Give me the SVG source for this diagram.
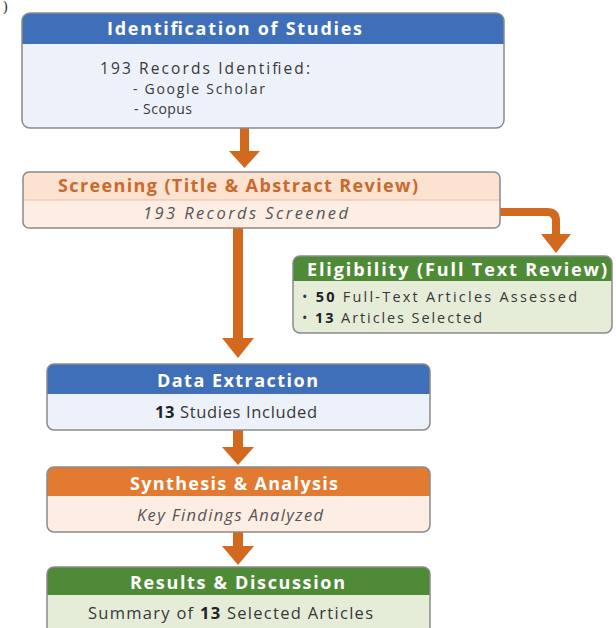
<svg xmlns="http://www.w3.org/2000/svg" width="616" height="628" viewBox="0 0 616 628">
<defs>
<style>
text{font-family:"Open Sans","Noto Sans","Liberation Sans",sans-serif}
.t{font-weight:bold;font-size:18px;fill:#ffffff}
.b{font-size:16.5px;fill:#383838}
.s{font-size:14px}
.e{font-size:14.5px}
.i{font-style:italic}
.n{font-weight:bold;fill:#222222}
.frame{stroke:#8a8a8a;stroke-width:1.5}
.arr{fill:#D2691E}
.line{fill:none;stroke:#D2691E;stroke-width:8}
</style>
<clipPath id="c1"><rect x="22" y="13" width="482" height="115" rx="8"/></clipPath>
<clipPath id="c2"><rect x="23" y="172" width="477" height="56" rx="6"/></clipPath>
<clipPath id="c3"><rect x="293" y="256" width="319" height="77" rx="7"/></clipPath>
<clipPath id="c4"><rect x="47" y="364" width="383" height="66" rx="7"/></clipPath>
<clipPath id="c5"><rect x="47" y="467" width="383" height="65" rx="7"/></clipPath>
<clipPath id="c6"><rect x="47" y="567" width="383" height="70" rx="7"/></clipPath>
</defs>
<rect width="616" height="628" fill="#ffffff"/>
<text x="3" y="11" style="font-family:'Liberation Serif',serif;font-size:14px;fill:#222">)</text>

<g id="connectors">
<rect class="arr" x="240" y="128" width="9" height="26"/>
<polygon class="arr" points="229,151 260,151 244.5,168"/>
<rect class="arr" x="233" y="228" width="10" height="112"/>
<polygon class="arr" points="222,338 254,338 238,358"/>
<path class="line" d="M500,212 H547 Q556,212 556,221 V236"/>
<polygon class="arr" points="541,234 571,234 556,253"/>
<rect class="arr" x="233" y="430" width="10" height="20"/>
<polygon class="arr" points="222,447 254,447 238,465"/>
<rect class="arr" x="233" y="532" width="10" height="17"/>
<polygon class="arr" points="222,546 254,546 238,565"/>
</g>

<g id="identification">
<g clip-path="url(#c1)">
<rect x="22" y="13" width="482" height="115" fill="#EDF1F9"/>
<rect x="22" y="13" width="482" height="31" fill="#3F6FB8"/>
</g>
<rect class="frame" x="22" y="13" width="482" height="115" rx="8" fill="none"/>
<text class="t" x="107" y="35" textLength="255" lengthAdjust="spacing">Identification of Studies</text>
<text class="b" x="100" y="74" style="font-size:15.5px" textLength="210" lengthAdjust="spacing">193 Records Identified:</text>
<text class="b s" x="133" y="94" textLength="132" lengthAdjust="spacing">- Google Scholar</text>
<text class="b s" x="134" y="113.5" textLength="58" lengthAdjust="spacing">- Scopus</text>
</g>

<g id="screening">
<g clip-path="url(#c2)">
<rect x="23" y="172" width="477" height="56" fill="#FDEDE2"/>
<rect x="23" y="172" width="477" height="28" fill="#FBE2D1"/>
</g>
<line x1="23" y1="200" x2="500" y2="200" stroke="#E8BFA5" stroke-width="1"/>
<rect class="frame" x="23" y="172" width="477" height="56" rx="6" fill="none"/>
<text class="t" x="58" y="192" style="fill:#C86A2E" textLength="360" lengthAdjust="spacing">Screening (Title &amp; Abstract Review)</text>
<text class="b i" x="143" y="219" style="fill:#555" textLength="205" lengthAdjust="spacing">193 Records Screened</text>
</g>

<g id="eligibility">
<g clip-path="url(#c3)">
<rect x="293" y="256" width="319" height="77" fill="#E5EDD9"/>
<rect x="293" y="256" width="319" height="25" fill="#4F8B36"/>
</g>
<rect class="frame" x="293" y="256" width="319" height="77" rx="7" fill="none"/>
<text class="t" x="307" y="276" textLength="300" lengthAdjust="spacing">Eligibility (Full Text Review)</text>
<text class="b e" x="302" y="302" textLength="275" lengthAdjust="spacing">• <tspan class="n">50</tspan> Full-Text Articles Assessed</text>
<text class="b e" x="302" y="322.5" textLength="180" lengthAdjust="spacing">• <tspan class="n">13</tspan> Articles Selected</text>
</g>

<g id="extraction">
<g clip-path="url(#c4)">
<rect x="47" y="364" width="383" height="66" fill="#EDF1F9"/>
<rect x="47" y="364" width="383" height="30" fill="#3F6FB8"/>
</g>
<rect class="frame" x="47" y="364" width="383" height="66" rx="7" fill="none"/>
<text class="t" x="157" y="387" textLength="161" lengthAdjust="spacing">Data Extraction</text>
<text class="b" x="155" y="418" textLength="162" lengthAdjust="spacing"><tspan class="n">13</tspan> Studies Included</text>
</g>

<g id="synthesis">
<g clip-path="url(#c5)">
<rect x="47" y="467" width="383" height="65" fill="#FDEDE2"/>
<rect x="47" y="467" width="383" height="29" fill="#E27A32"/>
</g>
<rect class="frame" x="47" y="467" width="383" height="65" rx="7" fill="none"/>
<text class="t" x="130" y="490" textLength="208" lengthAdjust="spacing">Synthesis &amp; Analysis</text>
<text class="b i" x="137" y="521" style="fill:#555" textLength="186" lengthAdjust="spacing">Key Findings Analyzed</text>
</g>

<g id="results">
<g clip-path="url(#c6)">
<rect x="47" y="567" width="383" height="70" fill="#E5EDD9"/>
<rect x="47" y="567" width="383" height="28" fill="#4F8B36"/>
</g>
<rect class="frame" x="47" y="567" width="383" height="70" rx="7" fill="none"/>
<text class="t" x="130" y="589" textLength="215" lengthAdjust="spacing">Results &amp; Discussion</text>
<text class="b" x="88" y="619" textLength="285" lengthAdjust="spacing">Summary of <tspan class="n">13</tspan> Selected Articles</text>
</g>
</svg>
